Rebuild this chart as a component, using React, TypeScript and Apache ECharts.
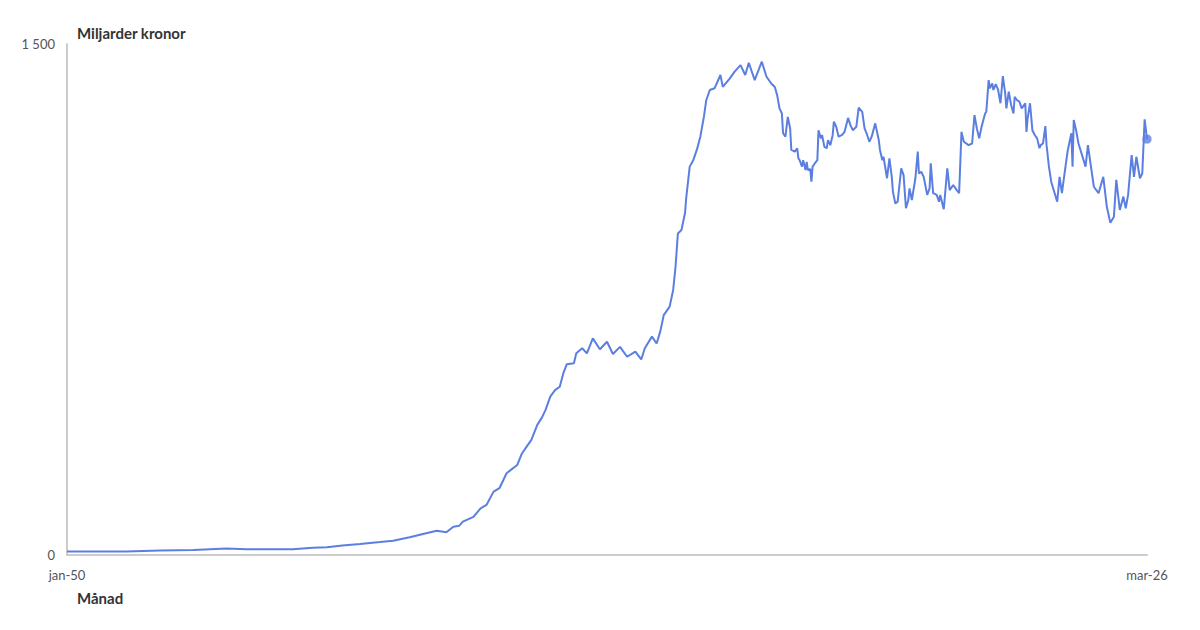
import React, { useEffect, useRef } from "react";
import * as echarts from "echarts";

const monthNames = ["jan", "feb", "mar", "apr", "maj", "jun", "jul", "aug", "sep", "okt", "nov", "dec"];
const firstYear = 1950;
const lastYear = 2026;
const lastMonthOfLastYear = 3;

const yAxisTitle = "Miljarder kronor";
const xAxisTitle = "Månad";
const yMin = 0;
const yMax = 1500;

const obs1950to1975: [string, number][] = [
  ["1950-01", 10], ["1954-03", 10], ["1956-08", 13], ["1958-12", 15], ["1961-04", 19],
  ["1962-09", 17], ["1964-10", 17], ["1965-12", 17], ["1967-05", 21], ["1968-05", 23],
  ["1969-06", 28], ["1970-09", 32], ["1972-02", 38], ["1973-01", 42], ["1974-03", 52],
  ["1975-05", 64],
];

const obs1976to1992: [string, number][] = [
  ["1976-02", 71], ["1976-10", 67], ["1977-04", 83], ["1977-09", 86], ["1977-12", 98],
  ["1978-09", 112], ["1979-03", 137], ["1979-08", 147], ["1980-02", 186], ["1980-07", 196],
  ["1981-01", 240], ["1981-10", 264], ["1982-02", 298], ["1982-06", 318], ["1982-10", 338],
  ["1983-03", 382], ["1983-07", 404], ["1983-10", 426], ["1984-02", 465], ["1984-06", 484],
  ["1984-10", 494], ["1985-01", 533], ["1985-04", 560], ["1985-10", 563], ["1985-12", 592],
  ["1986-05", 607], ["1986-09", 592], ["1987-02", 636], ["1987-08", 604], ["1988-02", 626],
  ["1988-07", 590], ["1989-01", 611], ["1989-07", 582], ["1990-02", 597], ["1990-07", 574],
  ["1990-10", 607], ["1991-04", 641], ["1991-08", 621], ["1991-11", 655], ["1992-02", 704],
  ["1992-07", 729], ["1992-10", 778], ["1992-12", 846],
];

const obs1993to2004: [string, number][] = [
  ["1993-02", 944], ["1993-05", 954], ["1993-08", 1003], ["1993-09", 1047], ["1993-12", 1140],
  ["1994-03", 1159], ["1994-06", 1189], ["1994-09", 1228], ["1994-12", 1286], ["1995-02", 1335],
  ["1995-05", 1365], ["1995-09", 1370], ["1996-02", 1409], ["1996-04", 1374], ["1996-10", 1399],
  ["1997-02", 1419], ["1997-07", 1438], ["1997-11", 1409], ["1998-02", 1445], ["1998-07", 1394],
  ["1999-01", 1448], ["1999-05", 1404], ["1999-09", 1384], ["1999-12", 1374], ["2000-02", 1350],
  ["2000-04", 1311], ["2000-06", 1296], ["2000-07", 1238], ["2000-09", 1228], ["2000-11", 1286],
  ["2001-01", 1252], ["2001-02", 1189], ["2001-05", 1184], ["2001-07", 1194], ["2001-08", 1164],
  ["2001-09", 1159], ["2001-11", 1140], ["2001-12", 1159], ["2002-02", 1130], ["2002-03", 1154],
  ["2002-04", 1130], ["2002-06", 1133], ["2002-07", 1096], ["2002-08", 1140], ["2002-10", 1150],
  ["2002-12", 1159], ["2003-01", 1247], ["2003-03", 1223], ["2003-04", 1233], ["2003-06", 1198],
  ["2003-08", 1194], ["2003-09", 1218], ["2003-11", 1203], ["2004-01", 1233], ["2004-02", 1272],
  ["2004-04", 1257], ["2004-06", 1228], ["2004-09", 1233], ["2004-11", 1242],
];

const obs2005to2014: [string, number][] = [
  ["2005-02", 1283], ["2005-04", 1262], ["2005-06", 1247], ["2005-09", 1257], ["2005-11", 1313],
  ["2006-02", 1301], ["2006-04", 1252], ["2006-06", 1235], ["2006-08", 1213], ["2006-10", 1228],
  ["2007-01", 1267], ["2007-04", 1218], ["2007-05", 1189], ["2007-07", 1159], ["2007-08", 1169],
  ["2007-11", 1106], ["2008-01", 1164], ["2008-03", 1110], ["2008-04", 1066], ["2008-06", 1032],
  ["2008-08", 1037], ["2008-11", 1135], ["2009-01", 1115], ["2009-03", 1018], ["2009-05", 1042],
  ["2009-06", 1076], ["2009-08", 1042], ["2009-11", 1106], ["2010-01", 1184], ["2010-02", 1120],
  ["2010-04", 1125], ["2010-06", 1110], ["2010-09", 1057], ["2010-11", 1076], ["2010-12", 1150],
  ["2011-02", 1062], ["2011-05", 1057], ["2011-07", 1037], ["2011-08", 1057], ["2011-11", 1015],
  ["2012-02", 1135], ["2012-04", 1071], ["2012-07", 1086], ["2012-10", 1071], ["2012-12", 1062],
  ["2013-02", 1242], ["2013-04", 1213], ["2013-08", 1203], ["2013-11", 1208], ["2014-01", 1291],
  ["2014-03", 1252], ["2014-05", 1223], ["2014-07", 1257], ["2014-10", 1296], ["2014-11", 1301],
];

const obs2015to2026: [string, number][] = [
  ["2015-01", 1394], ["2015-02", 1370], ["2015-04", 1384], ["2015-05", 1365], ["2015-07", 1382],
  ["2015-09", 1365], ["2015-11", 1326], ["2016-01", 1406], ["2016-03", 1355], ["2016-04", 1311],
  ["2016-06", 1360], ["2016-08", 1321], ["2016-10", 1296], ["2016-11", 1345], ["2017-01", 1335],
  ["2017-03", 1331], ["2017-05", 1311], ["2017-08", 1326], ["2017-09", 1242], ["2017-10", 1282],
  ["2017-12", 1326], ["2018-02", 1247], ["2018-04", 1233], ["2018-06", 1223], ["2018-08", 1194],
  ["2018-09", 1203], ["2018-11", 1208], ["2019-01", 1259], ["2019-02", 1203], ["2019-04", 1140],
  ["2019-06", 1095], ["2019-11", 1037], ["2020-01", 1110], ["2020-03", 1062], ["2020-06", 1140],
  ["2020-08", 1189], ["2020-11", 1238], ["2020-12", 1140], ["2021-01", 1277], ["2021-03", 1247],
  ["2021-05", 1208], ["2021-11", 1140], ["2022-01", 1203], ["2022-04", 1130], ["2022-06", 1081],
  ["2022-10", 1062], ["2023-02", 1110], ["2023-05", 1022], ["2023-08", 975], ["2023-11", 993],
  ["2024-01", 1101], ["2024-04", 1013], ["2024-07", 1052], ["2024-09", 1018], ["2024-11", 1057],
  ["2025-02", 1174], ["2025-04", 1110], ["2025-06", 1169], ["2025-09", 1106], ["2025-11", 1120],
  ["2026-01", 1279], ["2026-03", 1221],
];

const LINE_COLOR = "#5a7fe0";
const FONT = "Lato, 'Noto Sans', sans-serif";

function buildCategories() {
  const keys: string[] = [];
  const labels: string[] = [];
  for (let y = firstYear; y <= lastYear; y++) {
    for (let m = 1; m <= 12; m++) {
      if (y === lastYear && m > lastMonthOfLastYear) break;
      keys.push(`${y}-${String(m).padStart(2, "0")}`);
      labels.push(`${monthNames[m - 1]}-${String(y % 100).padStart(2, "0")}`);
    }
  }
  return { keys, labels };
}

function formatThousands(v: number) {
  return String(v).replace(/\B(?=(\d{3})+(?!\d))/g, " ");
}

export default function App() {
  const ref = useRef<HTMLDivElement>(null);

  useEffect(() => {
    document.body.style.margin = "0";
    if (!ref.current) return;
    const chart = echarts.init(ref.current, undefined, { renderer: "svg" });

    const { keys, labels } = buildCategories();
    const n = keys.length;
    const indexOf: Record<string, number> = {};
    keys.forEach((k, i) => (indexOf[k] = i));

    const allObs = [...obs1950to1975, ...obs1976to1992, ...obs1993to2004, ...obs2005to2014, ...obs2015to2026];
    const lineData: (number | null)[] = new Array(n).fill(null);
    allObs.forEach(([k, v]) => {
      const idx = indexOf[k];
      if (idx !== undefined) lineData[idx] = v;
    });
    const lastValue = allObs[allObs.length - 1][1];

    chart.setOption({
      animation: false,
      grid: { left: 67, right: 53, top: 44, bottom: 75, containLabel: false },
      xAxis: {
        type: "category",
        data: labels,
        boundaryGap: false,
        axisLine: { show: true, lineStyle: { color: "#cccccc", width: 2 } },
        axisTick: { show: false },
        splitLine: { show: false },
        axisLabel: {
          interval: (i: number) => i === 0 || i === n - 1,
          showMinLabel: true,
          showMaxLabel: true,
          color: "#555555",
          fontSize: 13,
          fontFamily: FONT,
          margin: 13,
        },
      },
      yAxis: {
        type: "value",
        min: yMin,
        max: yMax,
        interval: yMax - yMin,
        axisLine: { show: true, lineStyle: { color: "#cccccc", width: 2 } },
        axisTick: { show: false },
        splitLine: { show: false },
        axisLabel: {
          formatter: (v: number) => formatThousands(v),
          color: "#555555",
          fontSize: 13,
          fontFamily: FONT,
          margin: 12,
        },
      },
      series: [
        {
          type: "line",
          data: lineData,
          connectNulls: true,
          showSymbol: false,
          symbol: "none",
          lineStyle: { color: LINE_COLOR, width: 2 },
          itemStyle: { color: LINE_COLOR },
        },
        {
          type: "scatter",
          data: [[n - 1, lastValue]],
          symbol: "circle",
          symbolSize: 10,
          itemStyle: { color: LINE_COLOR, borderColor: "#ffffff", borderWidth: 1 },
        },
      ],
      graphic: [
        {
          type: "text",
          left: 77,
          top: 25,
          style: { text: yAxisTitle, fill: "#333333", font: `bold 15px ${FONT}` },
        },
        {
          type: "text",
          left: 77,
          top: 590,
          style: { text: xAxisTitle, fill: "#333333", font: `bold 15px ${FONT}` },
        },
      ],
    });

    return () => chart.dispose();
  }, []);

  return <div ref={ref} style={{ width: 1200, height: 630 }} />;
}
